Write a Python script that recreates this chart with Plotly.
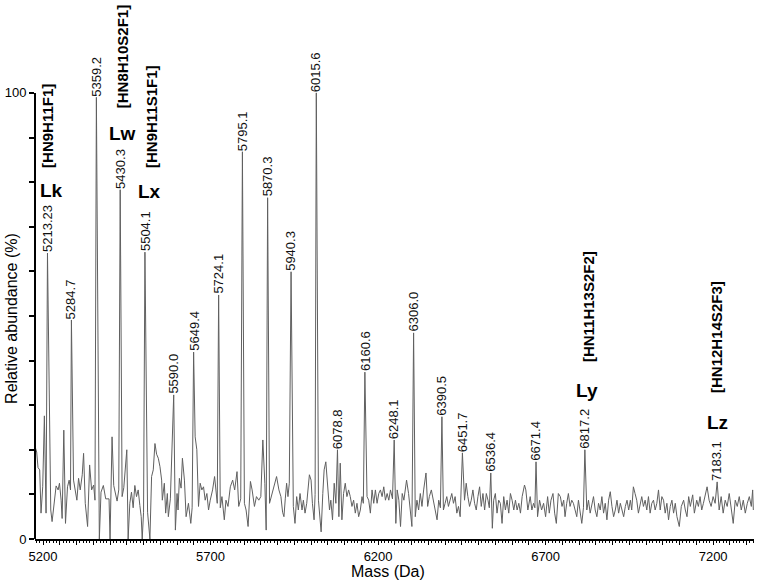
import plotly.graph_objects as go

# ---------------- data ----------------
# baseline / noise trace of the spectrum (mass in Da, relative abundance in %)
noise_mass = [
    5177, 5181, 5185, 5190, 5194, 5199, 5204, 5209, 5223, 5227, 5233, 5239, 5245, 5249, 5254, 5257,
    5262, 5267, 5273, 5278, 5282, 5291, 5296, 5301, 5306, 5311, 5317, 5321, 5326, 5333, 5339, 5345,
    5351, 5355, 5368, 5373, 5380, 5387, 5397, 5400, 5406, 5411, 5416, 5421, 5426, 5436, 5441, 5450,
    5454, 5459, 5464, 5469, 5474, 5479, 5484, 5489, 5493, 5496, 5500, 5510, 5512, 5519, 5524, 5529,
    5534, 5539, 5544, 5549, 5554, 5556, 5562, 5566, 5571, 5574, 5580, 5595, 5600, 5603, 5607, 5612,
    5616, 5622, 5627, 5634, 5641, 5645, 5654, 5659, 5664, 5669, 5674, 5679, 5684, 5689, 5694, 5699,
    5706, 5712, 5717, 5720, 5729, 5734, 5741, 5746, 5752, 5759, 5766, 5772, 5779, 5784, 5790, 5801,
    5806, 5812, 5819, 5824, 5831, 5837, 5844, 5850, 5856, 5862, 5866, 5876, 5884, 5891, 5897, 5904,
    5910, 5915, 5919, 5923, 5927, 5931, 5935, 5947, 5952, 5957, 5962, 5967, 5973, 5977, 5982, 5987,
    5995, 6000, 6004, 6009, 6012, 6022, 6030, 6035, 6039, 6044, 6050, 6055, 6059, 6064, 6069, 6074,
    6083, 6087, 6092, 6097, 6102, 6107, 6112, 6117, 6122, 6127, 6132, 6137, 6142, 6147, 6152, 6156,
    6167, 6172, 6177, 6182, 6187, 6192, 6197, 6202, 6207, 6212, 6217, 6222, 6227, 6232, 6237, 6243,
    6253, 6257, 6262, 6267, 6272, 6277, 6285, 6291, 6296, 6301, 6311, 6316, 6321, 6326, 6331, 6336,
    6343, 6348, 6353, 6359, 6366, 6371, 6376, 6381, 6386, 6395, 6400, 6405, 6410, 6415, 6420, 6425,
    6430, 6435, 6440, 6445, 6458, 6463, 6468, 6473, 6478, 6483, 6488, 6493, 6498, 6503, 6508, 6513,
    6518, 6523, 6528, 6532, 6541, 6545, 6550, 6555, 6560, 6565, 6570, 6575, 6580, 6585, 6590, 6595,
    6600, 6605, 6610, 6615, 6620, 6625, 6630, 6637, 6641, 6647, 6654, 6659, 6664, 6668, 6676, 6682,
    6688, 6694, 6700, 6706, 6711, 6716, 6722, 6727, 6732, 6738, 6744, 6749, 6754, 6758, 6763, 6768,
    6773, 6778, 6783, 6788, 6793, 6798, 6803, 6808, 6813, 6823, 6828, 6833, 6838, 6843, 6848, 6853,
    6858, 6863, 6868, 6873, 6878, 6883, 6888, 6893, 6898, 6903, 6908, 6913, 6918, 6923, 6928, 6933,
    6938, 6943, 6948, 6953, 6957, 6962, 6967, 6972, 6977, 6982, 6987, 6992, 6997, 7002, 7007, 7012,
    7017, 7022, 7027, 7032, 7037, 7042, 7047, 7052, 7057, 7062, 7067, 7072, 7077, 7082, 7087, 7092,
    7099, 7105, 7112, 7117, 7122, 7127, 7132, 7139, 7144, 7151, 7156, 7161, 7166, 7171, 7176, 7182,
    7188, 7194, 7200, 7206, 7218, 7224, 7230, 7236, 7242, 7248, 7254, 7260, 7266, 7272, 7278, 7284,
    7290, 7296, 7302, 7308, 7314, 7318, 7320,
]
noise_abund = [
    20.5, 19.5, 16.0, 15.5, 5.8, 11.7, 27.6, 5.8, 6.5, 3.9, 8.7, 11.9, 11.0, 12.5, 8.7, 4.6,
    24.4, 3.5, 11.7, 13.2, 11.0, 13.2, 11.0, 8.7, 13.6, 11.0, 14.4, 19.2, 8.0, 2.8, 16.6, 11.0,
    12.1, 8.7, 0.0, 10.5, 12.0, 9.0, 9.0, 0.0, 22.9, 12.0, 10.0, 8.5, 11.0, 9.5, 11.5, 20.0,
    0.0, 8.0, 10.5, 7.0, 12.0, 9.5, 11.0, 7.5, 5.0, 0.0, 6.0, 8.0, 6.0, 0.0, 14.0, 15.5,
    21.4, 19.0, 18.1, 16.2, 13.2, 8.7, 12.5, 5.8, 10.2, 5.0, 9.0, 2.0, 10.2, 6.5, 13.6, 11.4,
    18.1, 13.2, 5.0, 8.0, 3.5, 7.0, 22.9, 20.0, 7.3, 12.5, 11.0, 11.7, 8.7, 10.2, 6.5, 8.7,
    11.0, 14.0, 10.2, 8.0, 7.0, 9.5, 4.3, 8.7, 7.3, 11.7, 13.2, 11.0, 15.1, 7.3, 9.0, 8.0,
    6.5, 2.8, 12.9, 11.0, 7.3, 9.5, 8.7, 9.5, 22.2, 12.5, 2.0, 8.0, 10.2, 12.5, 14.0, 11.0,
    9.5, 6.0, 5.0, 9.0, 12.5, 9.5, 12.5, 7.3, 3.5, 9.5, 6.5, 10.2, 6.5, 8.7, 5.8, 8.0,
    14.4, 13.2, 8.0, 4.3, 10.0, 8.7, 1.6, 10.2, 15.5, 17.3, 10.2, 6.5, 8.7, 4.3, 12.5, 8.0,
    5.0, 17.0, 4.3, 10.2, 12.5, 9.5, 11.0, 9.5, 7.3, 8.7, 5.8, 8.0, 5.0, 6.5, 9.5, 8.0,
    9.5, 8.7, 5.8, 11.0, 8.0, 11.0, 8.0, 10.2, 11.0, 9.5, 11.7, 8.7, 10.2, 8.7, 11.0, 9.0,
    3.5, 11.0, 8.7, 2.8, 10.2, 8.7, 13.2, 10.2, 6.5, 2.8, 5.0, 8.7, 6.5, 10.2, 7.3, 11.0,
    14.8, 7.3, 9.5, 11.0, 8.0, 5.8, 4.3, 8.7, 7.0, 6.5, 8.0, 9.5, 7.3, 8.7, 10.2, 8.0,
    9.5, 5.8, 7.3, 5.0, 8.7, 12.5, 9.5, 7.3, 8.7, 11.0, 8.0, 6.5, 9.5, 11.7, 7.3, 10.2,
    6.5, 10.2, 8.7, 7.0, 2.4, 8.7, 10.2, 5.8, 8.7, 8.0, 3.5, 9.5, 6.5, 8.7, 5.8, 10.2,
    8.7, 6.5, 8.7, 6.5, 8.0, 5.8, 9.5, 12.1, 11.0, 6.5, 9.5, 6.5, 8.0, 7.0, 5.0, 8.7,
    6.5, 8.0, 5.0, 9.5, 5.8, 8.7, 10.2, 5.8, 3.5, 10.2, 9.5, 7.3, 8.7, 5.0, 8.0, 10.2,
    7.3, 8.7, 8.0, 6.5, 5.0, 8.7, 5.8, 3.5, 7.0, 6.5, 8.7, 5.8, 8.0, 9.5, 6.5, 5.0,
    8.0, 6.5, 9.5, 5.8, 8.0, 4.3, 8.7, 10.6, 7.3, 5.0, 6.5, 8.7, 5.8, 8.0, 6.5, 5.0,
    7.3, 8.7, 6.5, 8.7, 6.5, 11.7, 10.2, 8.7, 5.8, 8.0, 9.5, 7.3, 8.7, 6.5, 9.5, 5.8,
    8.0, 8.7, 6.5, 8.0, 11.0, 6.5, 9.5, 8.7, 5.8, 8.0, 4.3, 7.3, 8.7, 5.8, 8.0, 5.0,
    2.8, 7.3, 8.7, 6.5, 5.0, 9.5, 7.3, 9.9, 5.8, 8.7, 7.3, 9.5, 6.5, 8.0, 9.5, 11.7,
    8.7, 7.3, 9.5, 8.0, 6.5, 9.5, 5.8, 8.7, 7.3, 10.2, 6.5, 3.5, 8.7, 7.3, 9.5, 6.5,
    8.7, 5.8, 8.0, 9.5, 7.3, 11.0, 6.5,
]

# labelled peaks: position on the mass axis, apex height (%), printed label
peak_mass = [5213.23, 5284.7, 5359.2, 5430.3, 5504.1, 5590.0, 5649.4, 5724.1, 5795.1, 5870.3, 5940.3,
             6015.6, 6078.8, 6160.6, 6248.1, 6306.0, 6390.5, 6451.7, 6536.4, 6671.4, 6817.2, 7212.0]
peak_abund = [64.1, 49.1, 99.0, 78.3, 64.3, 32.3, 41.9, 54.7, 86.8, 76.5, 59.9,
              100.0, 20.0, 37.4, 22.2, 46.2, 27.4, 19.3, 14.8, 17.3, 20.0, 12.8]
peak_labels = ["5213.23", "5284.7", "5359.2", "5430.3", "5504.1", "5590.0", "5649.4", "5724.1",
               "5795.1", "5870.3", "5940.3", "6015.6", "6078.8", "6160.6", "6248.1", "6306.0",
               "6390.5", "6451.7", "6536.4", "6671.4", "6817.2", "7183.1"]

# glycan composition annotations
glycan_labels = ["[HN9H11F1]", "[HN8H10S2F1]", "[HN9H11S1F1]", "[HN11H13S2F2]", "[HN12H14S2F3]"]
glycan_mass = [5214.8, 5435.7, 5525.2, 6826.7, 7211.8]
glycan_y = [92.6, 108.0, 94.6, 52.0, 45.3]

series_labels = ["Lk", "Lw", "Lx", "Ly", "Lz"]
series_mass = [5223.8, 5435.7, 5516.3, 6823.7, 7211.8]
series_y = [78.2, 91.0, 77.8, 33.4, 26.2]

x_ticks = list(range(5200, 7301, 50))
x_tick_text = [str(v) if (v - 5200) % 500 == 0 else "" for v in x_ticks]
y_ticks = list(range(0, 101, 10))
y_tick_text = [str(v) if v in (0, 100) else "" for v in y_ticks]

# ---------------- figure ----------------
pts = sorted(zip(noise_mass + peak_mass, noise_abund + peak_abund))
spec_x = [p[0] for p in pts]
spec_y = [p[1] for p in pts]

FONT = "Liberation Sans, Arial, Helvetica, sans-serif"

fig = go.Figure()
fig.add_trace(go.Scatter(x=spec_x, y=spec_y, mode="lines",
                         line=dict(color="#606060", width=1), hoverinfo="skip",
                         showlegend=False))

annotations = []
for m, h, t in zip(peak_mass, peak_abund, peak_labels):
    annotations.append(dict(x=m, y=h, xref="x", yref="y", text=t, showarrow=False,
                            textangle=-90, xanchor="center", yanchor="bottom",
                            font=dict(family=FONT, size=13, color="#111"), borderpad=0))
for m, yv, t in zip(glycan_mass, glycan_y, glycan_labels):
    annotations.append(dict(x=m, y=yv, xref="x", yref="y", text="<b>" + t + "</b>",
                            showarrow=False, textangle=-90, xanchor="center",
                            yanchor="middle", font=dict(family=FONT, size=15, color="#000")))
for m, yv, t in zip(series_mass, series_y, series_labels):
    annotations.append(dict(x=m, y=yv, xref="x", yref="y", text="<b>" + t + "</b>",
                            showarrow=False, xanchor="center", yanchor="middle",
                            font=dict(family=FONT, size=19, color="#000")))
# axis titles
annotations.append(dict(x=0.491, y=-0.06, xref="paper", yref="paper", text="Mass (Da)",
                        showarrow=False, xanchor="center", yanchor="middle",
                        font=dict(family=FONT, size=16, color="#000")))
annotations.append(dict(x=-0.032, y=0.414, xref="paper", yref="paper",
                        text="Relative abundance (%)", textangle=-90, showarrow=False,
                        xanchor="center", yanchor="middle",
                        font=dict(family=FONT, size=16, color="#000")))

fig.update_layout(
    template="none",
    width=776, height=584,
    margin=dict(l=35, r=22, t=5, b=45, pad=0, autoexpand=False),
    paper_bgcolor="white", plot_bgcolor="white",
    font=dict(family=FONT, size=13, color="#000"),
    annotations=annotations,
    shapes=[dict(type="line", xref="paper", yref="y", x0=0, x1=0, y0=0, y1=100,
                 line=dict(color="#000", width=2))],
)
fig.update_xaxes(range=[5176, 7322], showgrid=False, zeroline=False, automargin=False,
                 showline=True, linecolor="#000", linewidth=2,
                 tickmode="array", tickvals=x_ticks, ticktext=x_tick_text,
                 ticks="outside", ticklen=4, tickwidth=1, tickcolor="#000",
                 tickfont=dict(family=FONT, size=13, color="#000"),
                 minor=dict(dtick=10, tick0=5200, ticks="outside", ticklen=2,
                            tickwidth=1, tickcolor="#000", showgrid=False))
fig.update_yaxes(range=[0, 119.7], showgrid=False, zeroline=False, showline=False,
                 automargin=False,
                 tickmode="array", tickvals=y_ticks, ticktext=y_tick_text,
                 ticks="outside", ticklen=5, tickwidth=1.5, tickcolor="#000",
                 tickfont=dict(family=FONT, size=13, color="#000"))

fig.write_html("out.html", config={"displayModeBar": False},
               post_script="document.body.style.margin='0';document.body.style.padding='0';")
